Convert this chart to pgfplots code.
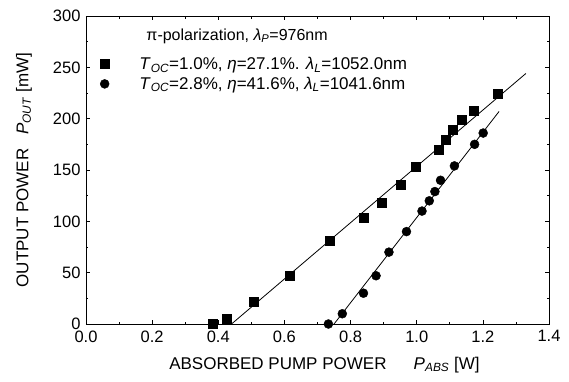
\documentclass[border=0pt]{standalone}
\usepackage{pgfplots}
\pgfplotsset{compat=1.18}
\usepackage{fontspec}
\setmainfont{Liberation Sans}
\begin{document}
\begin{tikzpicture}
\begin{axis}[
  scale only axis, width=463pt, height=308pt,
  xmin=0, xmax=1.4, ymin=0, ymax=300,
  xtick={0,0.2,0.4,0.6,0.8,1.0,1.2,1.4}, minor x tick num=1,
  ytick={0,50,100,150,200,250,300}, minor y tick num=1,
  tick align=inside, major tick length=4pt, minor tick length=2.5pt,
  every tick/.style={black, line width=0.7pt},
  axis line style={line width=0.8pt},
  /pgf/number format/assume math mode=true,
  xticklabel style={yshift=-3pt, /pgf/number format/.cd, fixed, fixed zerofill, precision=1},
  yticklabel style={xshift=-2pt, /pgf/number format/.cd, fixed, precision=0},
  tick label style={font=\fontsize{16.5}{18}\selectfont},
  label style={font=\fontsize{17}{19}\selectfont},
  xlabel={ABSORBED PUMP POWER\hspace{1.6em}\textit{P}\textsubscript{\textit{ABS}} [W]},
  ylabel={OUTPUT POWER\hspace{0.8em}\textit{P}\textsubscript{\textit{OUT}} [mW]},
  xlabel style={at={(axis description cs:0.515,-0.133)}, anchor=center},
  ylabel style={at={(axis description cs:-0.134,0.5)}, anchor=center},
  legend style={at={(axis description cs:0.015,0.88)}, anchor=north west, draw=none, fill=none,
    font=\fontsize{17}{19}\selectfont, row sep=2pt},
  legend cell align=left,
  legend image code/.code={\draw[#1] plot[only marks] coordinates {(0.3cm,0cm)}; \path[draw=none] (0cm,0cm) -- (1.45cm,0cm);},
]
\addplot[only marks, mark=square*, mark size=4.5pt, black] coordinates {
(0.384,0) (0.425,5) (0.508,22) (0.617,47) (0.738,81) (0.839,104) (0.895,118)
(0.951,136) (0.997,153) (1.065,170) (1.089,180) (1.108,189) (1.136,199) (1.173,208) (1.246,224)
};
\addlegendentry{\textit{T}\textsubscript{\textit{OC}}=1.0\%, \textit{η}=27.1\%. \textit{λ}\textsubscript{\textit{L}}=1052.0nm}
\addplot[only marks, mark=*, mark size=4.5pt, black] coordinates {
(0.733,0) (0.775,10) (0.839,30) (0.877,47) (0.916,70) (0.969,90) (1.016,110)
(1.038,120) (1.055,129) (1.072,140) (1.114,154) (1.175,175) (1.201,186)
};
\addlegendentry{\textit{T}\textsubscript{\textit{OC}}=2.8\%, \textit{η}=41.6\%, \textit{λ}\textsubscript{\textit{L}}=1041.6nm}
\addplot[no marks, black, line width=0.8pt, forget plot] coordinates {(0.44,0) (1.33,244)};
\addplot[no marks, black, line width=0.8pt, forget plot] coordinates {(0.75,0) (1.249,207)};
\node[anchor=base west, font=\fontsize{16}{18}\selectfont] at (rel axis cs:0.123,0.922)
  {π-polarization, \textit{λ}\textsubscript{\textit{P}}=976nm};
\coordinate (O) at (rel axis cs:0,0);
\end{axis}
\pgfresetboundingbox
\useasboundingbox ([shift={(-86pt,-57pt)}]O) rectangle ([shift={(483pt,324pt)}]O);
\end{tikzpicture}
\end{document}
